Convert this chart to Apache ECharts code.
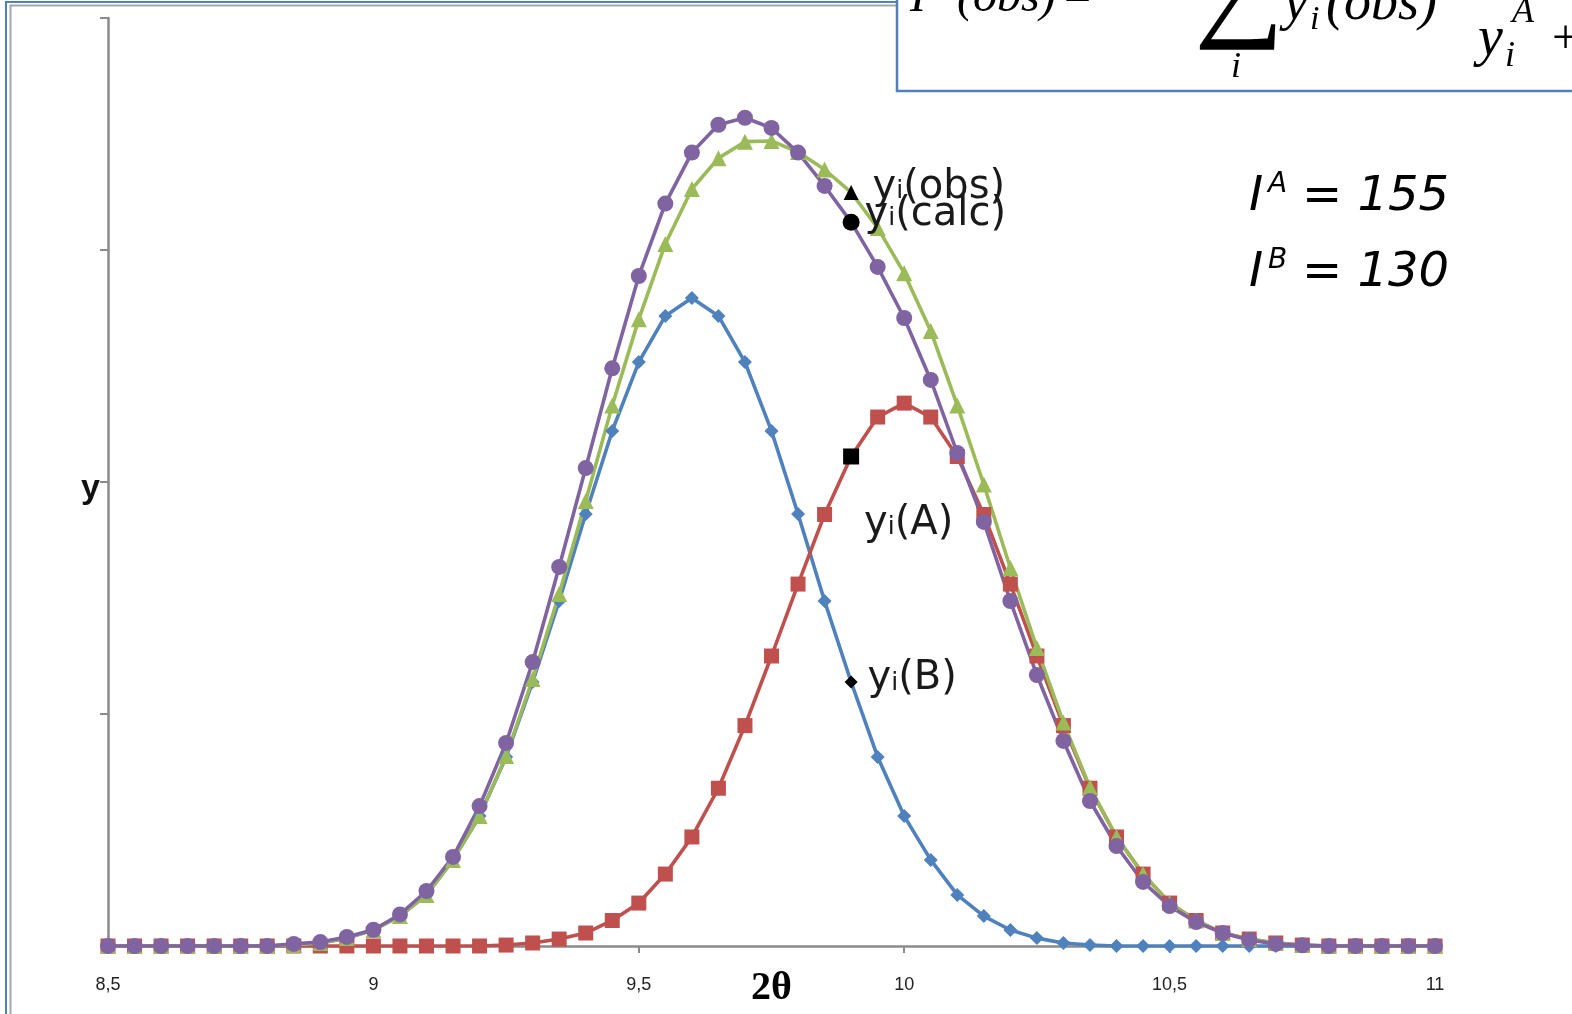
<!DOCTYPE html>
<html>
<head>
<meta charset="utf-8">
<title>Intensity partitioning of two overlapping peaks</title>
<script src="https://cdn.jsdelivr.net/npm/echarts@6/dist/echarts.min.js"></script>
<style>
  html, body { margin: 0; padding: 0; background: #ffffff; }
  #chart { width: 1572px; height: 1014px; }
</style>
</head>
<body>
<div id="chart"></div>
<script>
// 2θ sampling positions (degrees)
const twoTheta = [
  8.5, 8.55, 8.6, 8.65, 8.7, 8.75, 8.8, 8.85, 8.9, 8.95,
  9.0, 9.05, 9.1, 9.15, 9.2, 9.25, 9.3, 9.35, 9.4, 9.45,
  9.5, 9.55, 9.6, 9.65, 9.7, 9.75, 9.8, 9.85, 9.9, 9.95,
  10.0, 10.05, 10.1, 10.15, 10.2, 10.25, 10.3, 10.35, 10.4, 10.45,
  10.5, 10.55, 10.6, 10.65, 10.7, 10.75, 10.8, 10.85, 10.9, 10.95, 11.0
];

// Peak B (centred near 9.6)
const yiB = [
  0, 0, 0, 0, 0, 0, 0, 0.4, 1.3, 3.4,
  6.9, 12.9, 22.0, 37.1, 56.0, 81.5, 113.8, 148.7, 186.2, 222.0,
  251.7, 271.6, 279.3, 271.6, 251.7, 222.0, 186.2, 148.7, 113.8, 81.5,
  56.0, 37.1, 22.0, 12.9, 6.9, 3.4, 1.3, 0.4, 0, 0,
  0, 0, 0, 0, 0, 0, 0, 0, 0, 0, 0
];

// Peak A (centred near 10.0)
const yiA = [
  0, 0, 0, 0, 0, 0, 0, 0, 0, 0,
  0, 0, 0, 0, 0, 0.4, 1.3, 3.0, 5.6, 11.0,
  18.5, 31.0, 47.0, 68.0, 95.0, 125.0, 156.0, 186.0, 211.0, 228.0,
  234.0, 228.0, 211.0, 186.0, 156.0, 125.0, 95.0, 68.0, 47.0, 31.0,
  18.5, 11.0, 5.6, 3.0, 1.3, 0.4, 0, 0, 0, 0, 0
];

// Observed profile
const yiObs = [
  0, 0, 0, 0, 0, 0, 0, 0.4, 1.3, 3.4,
  6.9, 12.9, 22.0, 37.1, 56.0, 81.9, 115.1, 151.7, 191.8, 233.0,
  270.2, 302.6, 326.3, 339.6, 346.7, 347.0, 342.2, 334.7, 324.8, 309.5,
  290.0, 265.1, 233.0, 198.9, 162.9, 128.4, 96.3, 68.4, 47.0, 31.0,
  18.5, 11.0, 5.6, 3.0, 1.3, 0.4, 0, 0, 0, 0, 0
];

// Calculated profile
const yiCalc = [
  0, 0, 0, 0, 0, 0, 0, 0.9, 1.7, 3.9,
  7.0, 13.6, 23.7, 38.4, 60.3, 87.5, 122.4, 163.4, 206.0, 249.0,
  288.8, 320.0, 342.0, 354.0, 357.0, 352.6, 342.0, 327.6, 312.0, 292.7,
  270.7, 244.0, 212.5, 182.8, 148.7, 116.8, 88.4, 62.5, 43.1, 27.6,
  17.2, 10.3, 5.6, 2.6, 0.9, 0.3, 0, 0, 0, 0, 0
];

// Point (2θ = 9.9) where each curve carries its name
const labelIndex = 28;

const intensities = [
  { sup: 'A', value: '155' },
  { sup: 'B', value: '130' }
];

const labelFont = 'DejaVu Sans';
const richName = {
  y: { fontSize: 40, fontFamily: labelFont, color: '#1a1a1a', verticalAlign: 'bottom', lineHeight: 48 },
  i: { fontSize: 25, fontFamily: labelFont, color: '#1a1a1a', verticalAlign: 'bottom', lineHeight: 48, padding: [0, 0, 3, 0] },
  t: { fontSize: 40, fontFamily: labelFont, color: '#1a1a1a', verticalAlign: 'bottom', lineHeight: 48 }
};

function buildSeries(name, tag, values, color, symbol, size, markSize, labelOffset) {
  const data = values.map(function (v, k) {
    const item = { value: [twoTheta[k], v] };
    if (k === labelIndex) {
      item.symbolSize = markSize;
      item.itemStyle = { color: '#000000' };
      item.label = {
        show: true,
        position: 'right',
        distance: 5,
        offset: labelOffset,
        formatter: '{y|y}{i|i}{t|(' + tag + ')}',
        rich: richName
      };
    }
    return item;
  });
  return {
    name: name,
    type: 'line',
    data: data,
    symbol: symbol,
    symbolSize: size,
    showSymbol: true,
    color: color,
    itemStyle: { color: color },
    lineStyle: { color: color, width: 3.6 },
    label: { show: false },
    emphasis: { disabled: true }
  };
}

const chart = echarts.init(document.getElementById('chart'), null, { renderer: 'canvas' });

const serif = 'Liberation Serif';
function formulaText(x, y, text, size, italic) {
  return {
    type: 'text', z: 21, x: x, y: y,
    style: { text: text, fontSize: size, fontStyle: italic ? 'italic' : 'normal', fontFamily: serif, fill: '#000', verticalAlign: 'middle' }
  };
}

const graphic = [
  // page frame
  { type: 'rect', z: 0, shape: { x: 6, y: 2, width: 1700, height: 1100 },
    style: { fill: null, stroke: '#4f81bd', lineWidth: 2 } },
  { type: 'rect', z: 0, shape: { x: 10.5, y: 5.5, width: 1700, height: 1100 },
    style: { fill: null, stroke: '#a6a6a6', lineWidth: 2 } },
  // formula box
  { type: 'rect', z: 20, shape: { x: 897, y: -20, width: 700, height: 111 },
    style: { fill: '#ffffff', stroke: '#4f81bd', lineWidth: 2.5 } },
  formulaText(910, -2, 'I', 48, true),
  formulaText(957, -2, '(obs)', 48, true),
  formulaText(1064, -2, '=', 48, false),
  formulaText(1194, -10, '\u2211', 126, false),
  formulaText(1231, 68, 'i', 36, true),
  formulaText(1284, 5, 'y', 54, true),
  formulaText(1310, 20, 'i', 34, true),
  formulaText(1326, 5, '(obs)', 54, true),
  formulaText(1478, 40, 'y', 56, true),
  formulaText(1505, 57, 'i', 36, true),
  formulaText(1512, 13, 'A', 36, true),
  formulaText(1552, 40, '+', 48, false)
];

// integrated intensities of the two phases
intensities.forEach(function (row, r) {
  const mid = 198 + r * 76;
  graphic.push(
    { type: 'text', z: 21, x: 1249, y: mid, style: { text: 'I', fontSize: 48, fontStyle: 'italic', fontFamily: 'DejaVu Sans', fill: '#000', verticalAlign: 'middle' } },
    { type: 'text', z: 21, x: 1268, y: mid - 13, style: { text: row.sup, fontSize: 28, fontStyle: 'italic', fontFamily: 'DejaVu Sans', fill: '#000', verticalAlign: 'middle' } },
    { type: 'text', z: 21, x: 1302, y: mid, style: { text: '= ' + row.value, fontSize: 48, fontStyle: 'italic', fontFamily: 'DejaVu Sans', fill: '#000', verticalAlign: 'middle' } }
  );
});

const axisGrey = '#8a8a8a';

chart.setOption({
  animation: false,
  backgroundColor: '#ffffff',
  grid: { left: 108, right: 137, top: 18, bottom: 68, containLabel: false, outerBoundsMode: 'none' },
  xAxis: {
    type: 'value',
    min: 8.5,
    max: 11,
    interval: 0.5,
    name: '2\u03b8',
    nameLocation: 'middle',
    nameGap: 23,
    nameMoveOverlap: false,
    nameTextStyle: { fontFamily: 'Liberation Serif', fontWeight: 'bold', fontSize: 40, color: '#000' },
    axisLine: { show: true, onZero: false, lineStyle: { color: axisGrey, width: 2.5 } },
    axisTick: { show: true, inside: false, length: 7, lineStyle: { color: axisGrey, width: 2 } },
    axisLabel: {
      margin: 30,
      fontFamily: 'Liberation Sans',
      fontSize: 18,
      color: '#222',
      formatter: function (v) { return String(v).replace('.', ','); }
    },
    splitLine: { show: false }
  },
  yAxis: {
    type: 'value',
    min: 0,
    max: 400,
    interval: 100,
    name: 'y',
    nameLocation: 'middle',
    nameRotate: 0,
    nameGap: 8,
    nameMoveOverlap: false,
    nameTextStyle: { fontFamily: 'Liberation Sans', fontWeight: 'bold', fontSize: 34, color: '#111', align: 'right', verticalAlign: 'top', lineHeight: 14 },
    axisLine: { show: true, lineStyle: { color: axisGrey, width: 2.5 } },
    axisTick: { show: true, inside: false, length: 8, lineStyle: { color: axisGrey, width: 2 } },
    axisLabel: { show: false },
    splitLine: { show: false }
  },
  graphic: graphic,
  series: [
    buildSeries('yi(B)', 'B', yiB, '#4f81bd', 'diamond', 14, 13, [5, -7]),
    buildSeries('yi(A)', 'A', yiA, '#c0504d', 'rect', 15, 16, [0, 63]),
    buildSeries('yi(obs)', 'obs', yiObs, '#9bbb59', 'triangle', 16, 15, [9, -9]),
    buildSeries('yi(calc)', 'calc', yiCalc, '#8064a2', 'circle', 16, 17, [0, -12])
  ]
});
</script>
</body>
</html>
